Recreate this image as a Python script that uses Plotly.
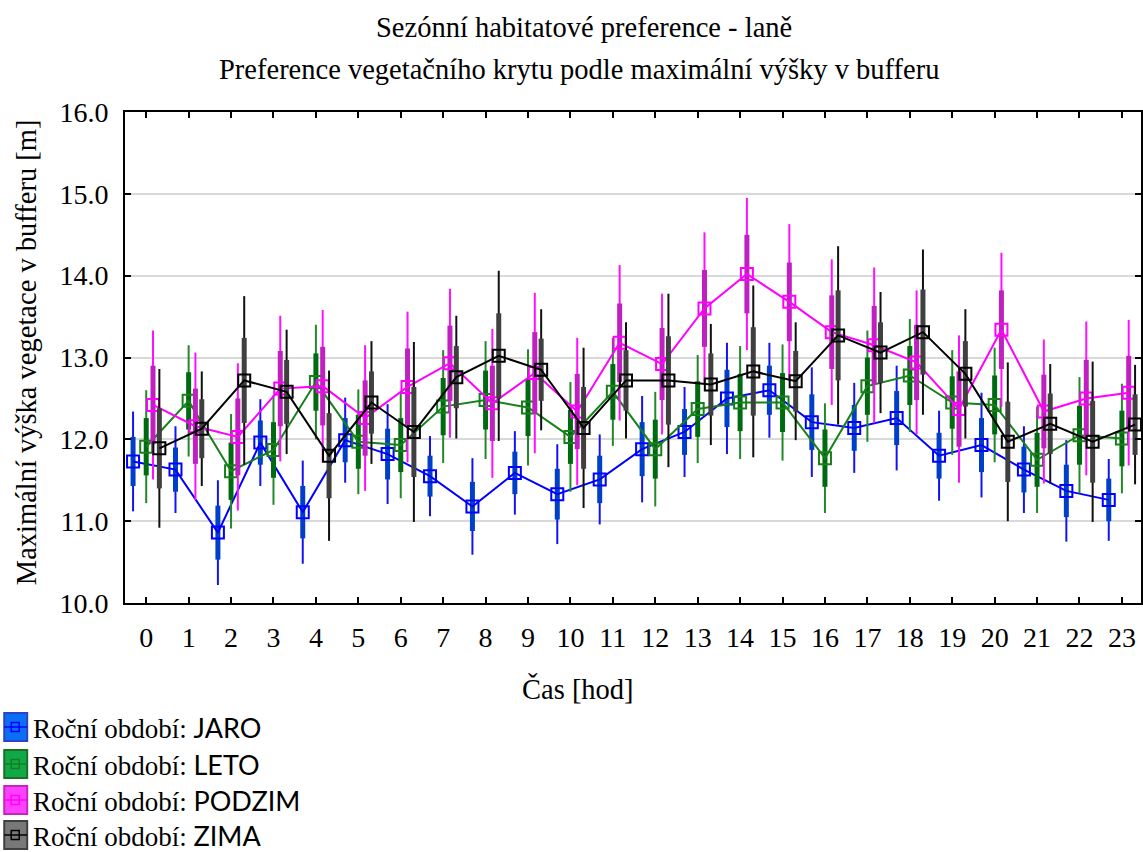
import plotly.graph_objects as go

hours = list(range(24))
hour_labels = [str(h) for h in hours]
y_ticks = [10.0, 11.0, 12.0, 13.0, 14.0, 15.0, 16.0]

season_names = ["JARO", "LETO", "PODZIM", "ZIMA"]

jaro_mean = [11.73, 11.63, 10.86, 11.96, 11.11, 11.99, 11.82, 11.55, 11.18, 11.59, 11.33, 11.51,
             11.88, 12.09, 12.50, 12.60, 12.21, 12.14, 12.26, 11.80, 11.93, 11.63, 11.37, 11.26]
jaro_se = [0.30, 0.27, 0.33, 0.27, 0.32, 0.27, 0.31, 0.25, 0.30, 0.26, 0.31, 0.29,
           0.33, 0.28, 0.35, 0.30, 0.34, 0.28, 0.33, 0.28, 0.33, 0.28, 0.32, 0.26]
jaro_ci = [0.61, 0.53, 0.64, 0.53, 0.63, 0.52, 0.61, 0.49, 0.59, 0.51, 0.61, 0.55,
           0.65, 0.55, 0.68, 0.58, 0.67, 0.55, 0.64, 0.55, 0.64, 0.53, 0.62, 0.50]

leto_mean = [11.91, 12.47, 11.61, 11.87, 12.70, 11.97, 11.93, 12.40, 12.48, 12.39, 12.03, 12.58,
             11.88, 12.37, 12.45, 12.45, 11.77, 12.65, 12.78, 12.45, 12.42, 11.75, 12.05, 12.01]
leto_se = [0.35, 0.35, 0.35, 0.34, 0.35, 0.33, 0.33, 0.35, 0.36, 0.35, 0.33, 0.34,
           0.36, 0.34, 0.35, 0.36, 0.35, 0.35, 0.36, 0.32, 0.36, 0.33, 0.36, 0.34]
leto_ci = [0.69, 0.68, 0.70, 0.67, 0.70, 0.64, 0.65, 0.69, 0.72, 0.71, 0.67, 0.66,
           0.70, 0.66, 0.69, 0.71, 0.67, 0.68, 0.69, 0.64, 0.70, 0.65, 0.71, 0.67]

podzim_mean = [12.42, 12.16, 12.03, 12.62, 12.65, 12.26, 12.64, 12.93, 12.44, 12.81, 12.34, 13.18,
               12.92, 13.60, 14.02, 13.68, 13.31, 13.15, 12.94, 12.37, 13.34, 12.34, 12.50, 12.57]
podzim_se = [0.48, 0.46, 0.47, 0.46, 0.48, 0.46, 0.47, 0.46, 0.46, 0.50, 0.46, 0.48,
             0.44, 0.47, 0.48, 0.48, 0.45, 0.48, 0.46, 0.46, 0.48, 0.45, 0.47, 0.45]
podzim_ci = [0.91, 0.90, 0.90, 0.89, 0.93, 0.89, 0.92, 0.91, 0.91, 0.98, 0.90, 0.95,
             0.86, 0.93, 0.93, 0.95, 0.89, 0.95, 0.88, 0.90, 0.94, 0.88, 0.94, 0.89]

zima_mean = [11.89, 12.13, 12.72, 12.58, 11.80, 12.45, 12.09, 12.76, 13.02, 12.85, 12.14, 12.72,
             12.72, 12.67, 12.83, 12.71, 13.27, 13.06, 13.31, 12.80, 11.97, 12.19, 11.97, 12.18]
zima_se = [0.49, 0.36, 0.52, 0.39, 0.52, 0.38, 0.55, 0.38, 0.52, 0.38, 0.50, 0.37,
           0.54, 0.38, 0.54, 0.37, 0.55, 0.37, 0.52, 0.40, 0.49, 0.37, 0.50, 0.37]
zima_ci = [0.97, 0.70, 1.03, 0.76, 1.04, 0.75, 1.10, 0.75, 1.04, 0.74, 0.98, 0.71,
           1.06, 0.74, 1.05, 0.72, 1.09, 0.74, 1.01, 0.79, 0.97, 0.73, 0.98, 0.73]

# styling (not data)
series = [
    dict(name="JARO", mean=jaro_mean, se=jaro_se, ci=jaro_ci, off=-0.31,
         line="#0000ff", thin="#1414f0", thick="#0040c8", fill="#0a6ff5", border="#2a44c4"),
    dict(name="LETO", mean=leto_mean, se=leto_se, ci=leto_ci, off=0.0,
         line="#17801a", thin="#23882a", thick="#006a10", fill="#10a848", border="#1a7020"),
    dict(name="PODZIM", mean=podzim_mean, se=podzim_se, ci=podzim_ci, off=0.16,
         line="#ff00ff", thin="#ff10ff", thick="#c020c0", fill="#ff40ff", border="#c028c0"),
    dict(name="ZIMA", mean=zima_mean, se=zima_se, ci=zima_ci, off=0.31,
         line="#000000", thin="#101010", thick="#404040", fill="#787878", border="#404040"),
]

SERIF = "Liberation Serif, Times New Roman, serif"
FS_TICK = 28
FS_TITLE = 28.5

fig = go.Figure()
for s in series:
    xs = [h + s["off"] for h in hours]
    fig.add_trace(go.Scatter(
        x=xs, y=s["mean"], mode="markers", marker=dict(size=1, color=s["thin"]),
        error_y=dict(type="data", array=s["ci"], visible=True, thickness=2, width=0, color=s["thin"]),
        showlegend=False, hoverinfo="skip"))
    fig.add_trace(go.Scatter(
        x=xs, y=s["mean"], mode="markers", marker=dict(size=1, color=s["thick"]),
        error_y=dict(type="data", array=s["se"], visible=True, thickness=5, width=0, color=s["thick"]),
        showlegend=False, hoverinfo="skip"))
    fig.add_trace(go.Scatter(
        x=xs, y=s["mean"], mode="lines+markers", name="Roční období: " + s["name"],
        line=dict(color=s["line"], width=2),
        marker=dict(symbol="square-open", size=12, color=s["line"], line=dict(width=2, color=s["line"])),
        showlegend=False))

# pixel layout
W, H = 1143, 852
L, R, T, B = 125, 0, 112, 249
PW, PH = W - L - R, H - T - B


def px(xp):
    return (xp - L) / PW


def py(yp):
    return (H - B - yp) / PH


annotations = [
    dict(text="Sezónní habitatové preference - laně", x=px(585), y=py(27), xref="paper", yref="paper",
         xanchor="center", yanchor="middle", showarrow=False,
         font=dict(family=SERIF, size=FS_TITLE, color="black")),
    dict(text="Preference vegetačního krytu podle maximální výšky v bufferu", x=px(580), y=py(69),
         xref="paper", yref="paper", xanchor="center", yanchor="middle", showarrow=False,
         font=dict(family=SERIF, size=FS_TITLE, color="black")),
    dict(text="Maximální výška vegetace v bufferu [m]", x=px(26), y=py(352), xref="paper", yref="paper",
         xanchor="center", yanchor="middle", textangle=-90, showarrow=False,
         font=dict(family=SERIF, size=FS_TITLE, color="black")),
    dict(text="Čas [hod]", x=px(579), y=py(689), xref="paper", yref="paper",
         xanchor="center", yanchor="middle", showarrow=False,
         font=dict(family=SERIF, size=FS_TITLE, color="black")),
]

shapes = []
row_y = [727, 764, 800, 835]
for s, ry in zip(series, row_y):
    shapes.append(dict(type="rect", xref="paper", yref="paper", x0=px(4), x1=px(27), y0=py(ry - 14), y1=py(ry + 14),
                       fillcolor=s["fill"], line=dict(color=s["border"], width=2), layer="above"))
    shapes.append(dict(type="line", xref="paper", yref="paper", x0=px(4), x1=px(27), y0=py(ry), y1=py(ry),
                       line=dict(color=s["line"], width=1.5), layer="above"))
    shapes.append(dict(type="rect", xref="paper", yref="paper", x0=px(11), x1=px(19), y0=py(ry - 4.5), y1=py(ry + 4.5),
                       fillcolor="rgba(0,0,0,0)", line=dict(color=s["line"], width=1.5), layer="above"))
    annotations.append(dict(
        text='Roční období: <span style="font-family:Lato">' + s["name"] + "</span>",
        x=px(31), y=py(ry), xref="paper", yref="paper", xanchor="left", yanchor="middle",
        showarrow=False, font=dict(family=SERIF, size=27, color="black")))

fig.update_layout(
    width=W, height=H, margin=dict(l=L, r=R, t=T, b=B, pad=0),
    paper_bgcolor="white", plot_bgcolor="white",
    showlegend=False, annotations=annotations, shapes=shapes,
    font=dict(family=SERIF, size=FS_TICK, color="black"),
)
fig.update_xaxes(
    range=[-0.5, 23.45], tickmode="array", tickvals=hours, ticktext=hour_labels,
    ticks="inside", ticklen=6, tickwidth=2, tickcolor="black",
    showline=True, linecolor="black", linewidth=2, mirror="ticks",
    showgrid=False, zeroline=False, ticklabelstandoff=8,
    tickfont=dict(family=SERIF, size=FS_TICK, color="black"),
)
fig.update_yaxes(
    range=[10.0, 16.0], tickmode="array", tickvals=y_ticks, ticktext=[f"{v:.1f}" for v in y_ticks],
    ticks="inside", ticklen=6, tickwidth=2, tickcolor="black",
    showline=True, linecolor="black", linewidth=2, mirror="ticks",
    showgrid=True, gridcolor="#d9d9d9", gridwidth=2, zeroline=False, ticklabelstandoff=9,
    tickfont=dict(family=SERIF, size=FS_TICK, color="black"),
)

fig.write_html("out.html")
